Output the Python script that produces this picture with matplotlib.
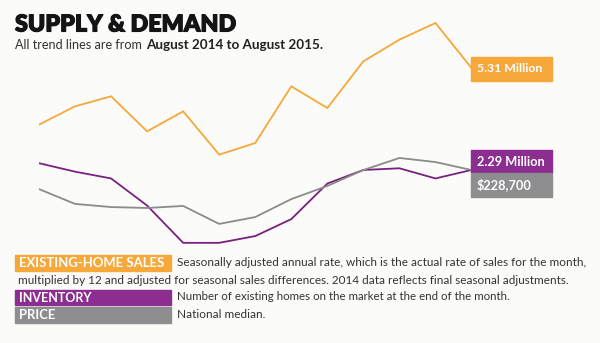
import matplotlib
matplotlib.use("Agg")
import matplotlib.pyplot as plt
import matplotlib.patheffects as pe

# Data: August 2014 to August 2015 (monthly)
months = ["Aug 14", "Sep 14", "Oct 14", "Nov 14", "Dec 14", "Jan 15", "Feb 15",
          "Mar 15", "Apr 15", "May 15", "Jun 15", "Jul 15", "Aug 15"]
sales_m = [4.97, 5.08, 5.14, 4.93, 5.05, 4.79, 4.86, 5.20, 5.07, 5.35, 5.48, 5.58, 5.31]
inventory_m = [2.33, 2.28, 2.24, 2.08, 1.86, 1.86, 1.90, 2.00, 2.21, 2.29, 2.30, 2.24, 2.29]
price_k = [218.4, 210.4, 208.7, 208.2, 209.3, 199.6, 203.3, 213.0, 220.1, 228.7, 235.2, 233.0, 228.7]

end_labels = ["5.31 Million", "2.29 Million", "$228,700"]

orange = "#f6a83a"
purple = "#7a2080"
purple_box = "#8c2e8f"
gray = "#8b8b8b"
gray_box = "#8e8e90"
bg = "#fbfbf9"

font = ["Lato", "DejaVu Sans"]

fig = plt.figure(figsize=(6, 3.43), dpi=100, facecolor=bg)
W, H = 600, 343

# one axes per series, all stacked on the same spot, each with its own scale
pos = [39 / W, 0, 432.5 / W, 1]
ax_s = fig.add_axes(pos)
ax_i = fig.add_axes(pos)
ax_p = fig.add_axes(pos)
x = list(range(len(months)))
for ax, vals, col, lim in [(ax_p, price_k, gray, (135.3, 320.5)),
                           (ax_i, inventory_m, purple, (1.269, 3.293)),
                           (ax_s, sales_m, orange, (3.66, 5.718))]:
    ax.plot(x, vals, color=col, lw=1.3, solid_joinstyle="miter")
    ax.set_xlim(0, 12)
    ax.set_ylim(*lim)
    ax.axis("off")
    ax.patch.set_alpha(0)

renderer = fig.canvas.get_renderer()


def put(xpx, ypx, s, width_px, **kw):
    # place a text at pixel coords and scale its size so it spans width_px
    t = fig.text(xpx / W, 1 - ypx / H, s, va="center", ha="left", **kw)
    w = t.get_window_extent(renderer).width
    t.set_fontsize(t.get_fontsize() * width_px / w)
    return t


def rect(x0, y0, x1, y1, color):
    fig.patches.append(plt.Rectangle((x0 / W, 1 - y1 / H), (x1 - x0) / W, (y1 - y0) / H,
                                     transform=fig.transFigure, color=color, zorder=5))


# end value boxes
rect(471, 57, 552, 81, orange)
rect(471, 150, 552, 173, purple_box)
rect(471, 173, 552, 197, gray_box)
put(477, 69, end_labels[0], 65, color="white", fontweight="bold", family=font, zorder=6)
put(477, 161.5, end_labels[1], 68, color="white", fontweight="bold", family=font, zorder=6)
put(477, 185, end_labels[2], 55, color="white", fontweight="bold", family=font, zorder=6)

# title
title = put(15, 25, "SUPPLY & DEMAND", 221, fontsize=18, fontweight="heavy", family=font,
            color="#141414")
title.set_path_effects([pe.withStroke(linewidth=0.8, foreground="#141414")])
put(15, 45, "All trend lines are from", 127, fontsize=9, family=font, color="#333333")
put(146, 45, "August 2014 to August 2015.", 177, fontsize=9, fontweight="bold", family=font,
    color="#222222")

# legend blocks
rect(14.5, 255, 171, 271, orange)
rect(14.5, 290, 171, 305, purple_box)
rect(14.5, 307, 171, 323, gray_box)
put(19, 263, "EXISTING-HOME SALES", 146, color="white", fontweight="bold", family=font, zorder=6)
put(19, 297.5, "INVENTORY", 73, color="white", fontweight="bold", family=font, zorder=6)
put(19, 315, "PRICE", 36.5, color="white", fontweight="bold", family=font, zorder=6)

desc_kw = dict(family=font, color="#333333")
put(177, 263, "Seasonally adjusted annual rate, which is the actual rate of sales for the month,",
    405, **desc_kw)
put(18, 281, "multiplied by 12 and adjusted for seasonal sales differences. 2014 data reflects "
    "final seasonal adjustments.", 548, **desc_kw)
put(177, 297, "Number of existing homes on the market at the end of the month.", 334, **desc_kw)
put(177, 314, "National median.", 87, **desc_kw)

fig.savefig("out.png", dpi=100, facecolor=bg)
